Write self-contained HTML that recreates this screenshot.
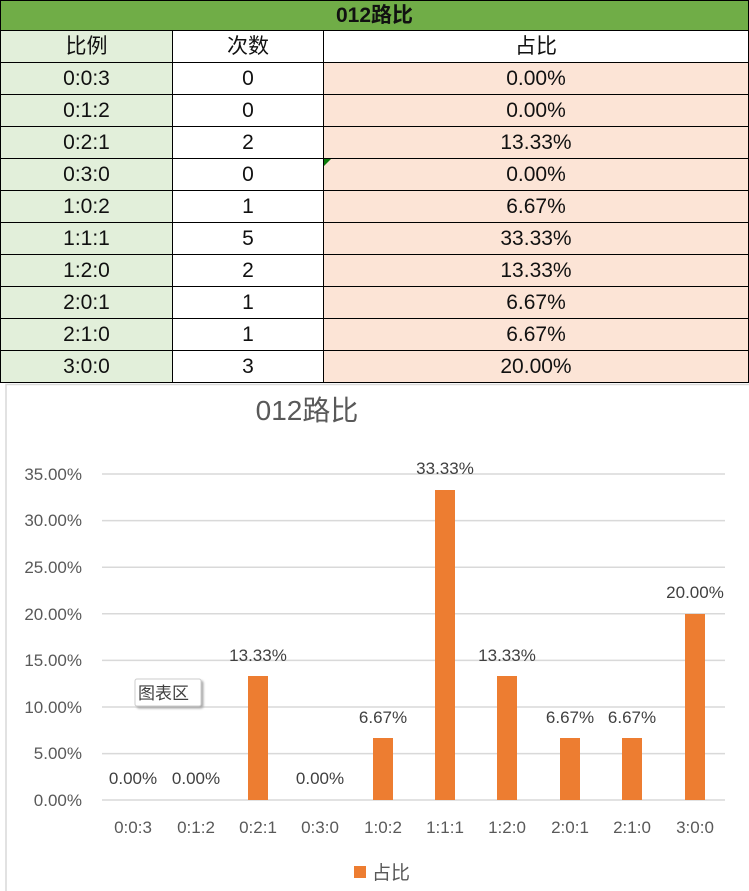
<!DOCTYPE html><html><head><meta charset="utf-8"><style>
body{margin:0;width:749px;height:891px;background:#fff;position:relative;overflow:hidden;font-family:"Liberation Sans","Noto Sans CJK SC",sans-serif}
table{position:absolute;left:0;top:0;border-collapse:collapse;width:749px}
td{border:1px solid #000;height:31px;padding:0;text-align:center;font-size:21px;color:#111;line-height:31px}
td.a{background:#E2EFDA;width:171px}td.b{width:150px}td.c{background:#FCE4D6}
tr.h td{background:#70AD47;font-weight:bold;height:29px;line-height:29px}
</style></head><body>
<table>
<tr class="h"><td colspan="3">012路比</td></tr>
<tr><td class="a">比例</td><td class="b">次数</td><td>占比</td></tr>
<tr><td class="a">0:0:3</td><td class="b">0</td><td class="c">0.00%</td></tr>
<tr><td class="a">0:1:2</td><td class="b">0</td><td class="c">0.00%</td></tr>
<tr><td class="a">0:2:1</td><td class="b">2</td><td class="c">13.33%</td></tr>
<tr><td class="a">0:3:0</td><td class="b">0</td><td class="c" style="position:relative">0.00%<div style="position:absolute;left:0;top:0;width:0;height:0;border-top:7px solid #0a7a0a;border-right:7px solid transparent"></div></td></tr>
<tr><td class="a">1:0:2</td><td class="b">1</td><td class="c">6.67%</td></tr>
<tr><td class="a">1:1:1</td><td class="b">5</td><td class="c">33.33%</td></tr>
<tr><td class="a">1:2:0</td><td class="b">2</td><td class="c">13.33%</td></tr>
<tr><td class="a">2:0:1</td><td class="b">1</td><td class="c">6.67%</td></tr>
<tr><td class="a">2:1:0</td><td class="b">1</td><td class="c">6.67%</td></tr>
<tr><td class="a">3:0:0</td><td class="b">3</td><td class="c">20.00%</td></tr>
</table>
<svg style="position:absolute;left:0;top:383px" width="749" height="508" font-family="Liberation Sans, Noto Sans CJK SC, sans-serif">
<rect x="6" y="1.5" width="760" height="520" fill="#fff" stroke="#d9d9d9" stroke-width="1.5"/>
<text x="307" y="37" font-size="28" fill="#595959" text-anchor="middle">012路比</text>
<g stroke="#d9d9d9" stroke-width="1.5">
<line x1="102" x2="725" y1="91" y2="91"/><line x1="102" x2="725" y1="137.6" y2="137.6"/><line x1="102" x2="725" y1="184.2" y2="184.2"/><line x1="102" x2="725" y1="230.8" y2="230.8"/><line x1="102" x2="725" y1="277.4" y2="277.4"/><line x1="102" x2="725" y1="324" y2="324"/><line x1="102" x2="725" y1="370.6" y2="370.6"/><line x1="102" x2="725" y1="417" y2="417"/>
</g>
<g font-size="17" fill="#595959" text-anchor="end">
<text x="82" y="97">35.00%</text><text x="82" y="143">30.00%</text><text x="82" y="190">25.00%</text><text x="82" y="237">20.00%</text><text x="82" y="283">15.00%</text><text x="82" y="330">10.00%</text><text x="82" y="376">5.00%</text><text x="82" y="423">0.00%</text>
</g>
<g fill="#ED7D31">
<rect x="248" y="293" width="20" height="124"/><rect x="373" y="355" width="20" height="62"/><rect x="435" y="107" width="20" height="310"/><rect x="497" y="293" width="20" height="124"/><rect x="560" y="355" width="20" height="62"/><rect x="622" y="355" width="20" height="62"/><rect x="685" y="231" width="20" height="186"/>
</g>
<g font-size="17" fill="#404040" text-anchor="middle">
<text x="133" y="401">0.00%</text><text x="196" y="401">0.00%</text><text x="258" y="278">13.33%</text><text x="320" y="401">0.00%</text><text x="383" y="340">6.67%</text><text x="445" y="91">33.33%</text><text x="507" y="278">13.33%</text><text x="570" y="340">6.67%</text><text x="632" y="340">6.67%</text><text x="695" y="215">20.00%</text>
</g>
<g font-size="17" fill="#595959" text-anchor="middle">
<text x="133" y="450">0:0:3</text><text x="196" y="450">0:1:2</text><text x="258" y="450">0:2:1</text><text x="320" y="450">0:3:0</text><text x="383" y="450">1:0:2</text><text x="445" y="450">1:1:1</text><text x="507" y="450">1:2:0</text><text x="570" y="450">2:0:1</text><text x="632" y="450">2:1:0</text><text x="695" y="450">3:0:0</text>
</g>
<rect x="354" y="483" width="12" height="12" fill="#ED7D31"/>
<text x="372" y="496" font-size="19" fill="#595959">占比</text>
<rect x="135" y="296" width="66" height="27" rx="2" fill="#fff" stroke="#ccc" style="filter:drop-shadow(2px 2px 1px #aaa)"/>
<text x="138" y="316" font-size="17" fill="#404040">图表区</text>
</svg>
</body></html>
